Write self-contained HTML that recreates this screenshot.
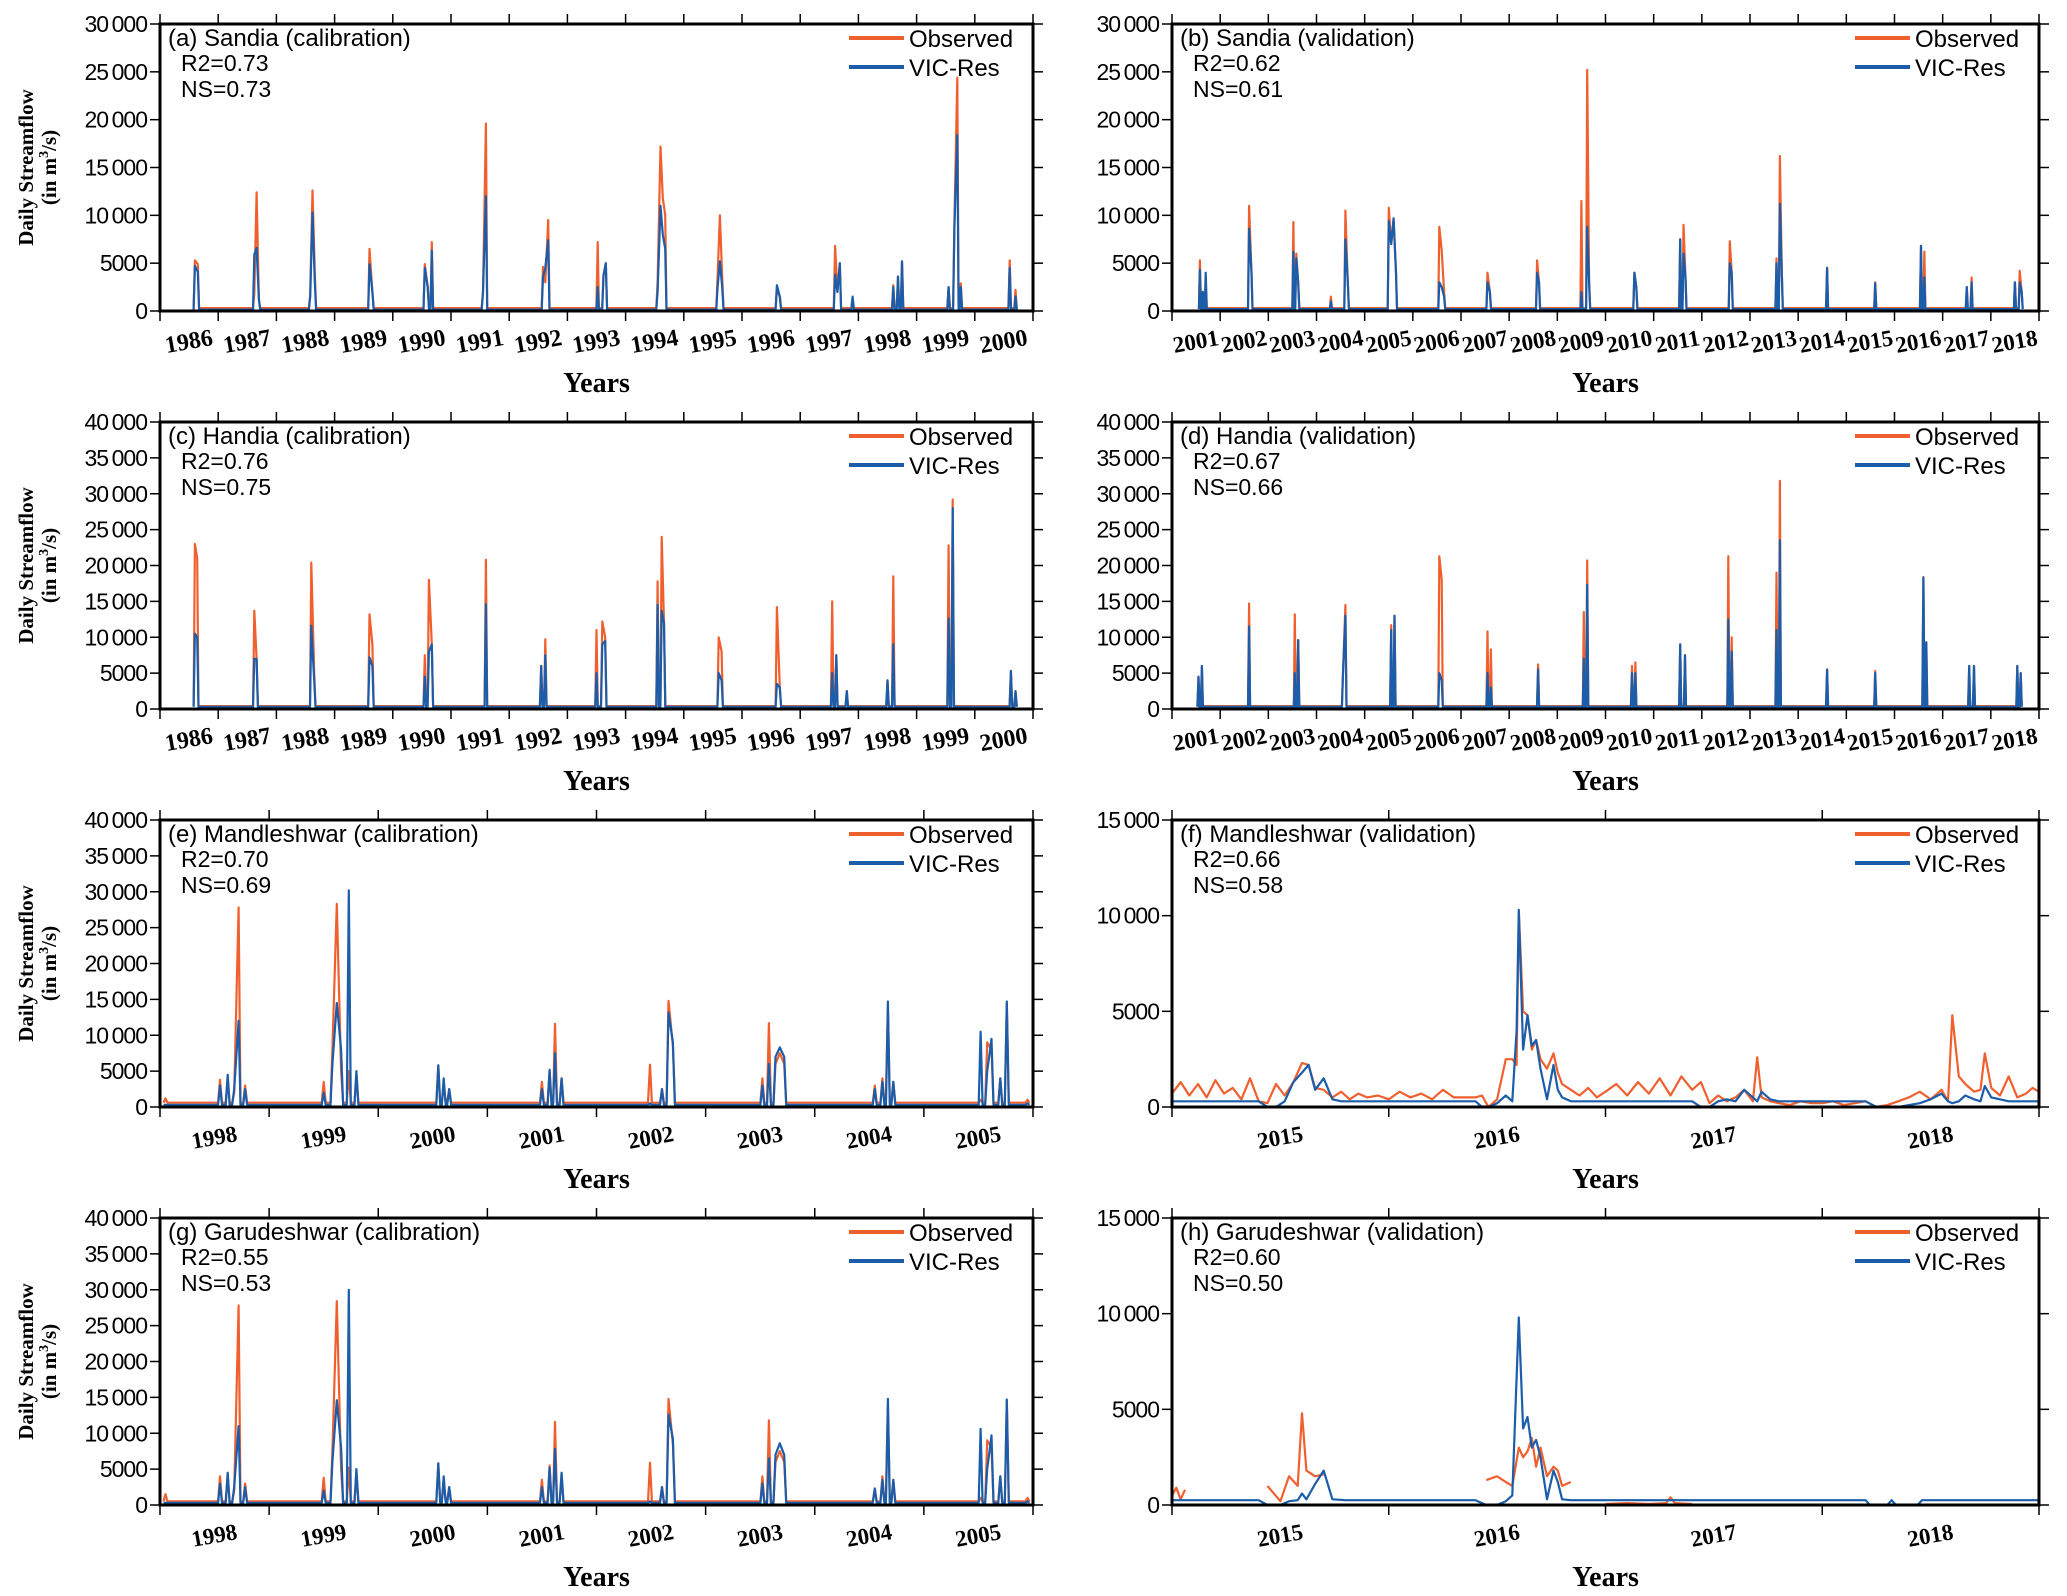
<!DOCTYPE html>
<html><head><meta charset="utf-8"><style>
html,body{margin:0;padding:0;background:#fff}
svg{display:block}
text{font-family:"Liberation Sans",sans-serif}
.ser{font-family:"Liberation Serif",serif;font-weight:bold}
</style></head><body>
<svg id="fig" width="2067" height="1596" viewBox="0 0 2067 1596" xmlns="http://www.w3.org/2000/svg"></svg>
<script>
// ---------- Panel (a) Sandia calibration ----------
const aT=[1986.6,1986.65,1987.62,1987.66,1987.7,1988.58,1988.62,1988.66,1989.6,1989.65,1990.55,1990.6,1990.67,1991.55,1991.6,1992.58,1992.62,1992.67,1993.52,1993.62,1993.66,1994.55,1994.6,1994.64,1994.68,1995.58,1995.62,1995.66,1996.6,1996.65,1997.6,1997.64,1997.68,1997.9,1998.6,1998.68,1998.75,1999.55,1999.65,1999.7,1999.76,2000.6,2000.7];
const aObs=[5300,4900,1800,12400,1200,1700,12600,4000,6500,2000,4900,2500,7200,2000,19600,4600,3000,9500,7200,3700,5000,3000,17200,11800,10000,3700,10000,3500,2200,1500,6800,2000,5000,1300,2700,3600,5200,2500,9300,24400,2900,5300,2200];
const aSim=[4700,4100,5900,6600,1200,1500,10300,3000,4900,2000,4500,2500,6300,2000,12000,3500,4500,7400,2500,3700,5000,2000,11000,8000,6500,2500,5200,2500,2700,1500,3800,2000,5000,1500,2500,3600,5200,2500,8700,18400,2500,4500,1500];
const aBase=[300,150];
// ---------- Panel (b) Sandia validation ----------
const bT=[2001.58,2001.64,2001.7,2002.6,2002.65,2003.52,2003.58,2003.62,2004.3,2004.6,2004.65,2005.5,2005.55,2005.6,2005.65,2006.55,2006.6,2006.65,2007.55,2007.6,2008.58,2008.62,2009.5,2009.62,2009.66,2010.6,2010.64,2011.55,2011.62,2011.66,2012.58,2012.62,2013.55,2013.62,2013.66,2014.6,2015.6,2016.55,2016.62,2017.5,2017.6,2018.5,2018.6,2018.64];
const bObs=[5300,2000,3000,11000,4000,9300,6000,3000,1500,10500,3000,10800,7000,9500,4000,8800,6300,2000,4000,2000,5300,3000,11500,25200,3000,4000,2500,7500,9000,3500,7300,4000,5500,16200,4000,4500,3000,6800,6200,2500,3500,3000,4200,2000];
const bSim=[4300,2000,4000,8600,4000,6200,5500,3000,1000,7500,3000,9400,7000,9700,4000,3000,2500,1500,3000,2000,4000,3000,2000,8800,3000,4000,2500,7500,6000,3500,5000,4000,5000,11200,4000,4500,2900,6800,3500,2500,3000,3000,3000,2000];
const bBase=[300,200];
// ---------- Panel (c) Handia calibration ----------
const cT=[1986.6,1986.64,1987.62,1987.66,1988.6,1988.65,1989.6,1989.65,1990.55,1990.62,1990.67,1991.6,1992.55,1992.62,1993.5,1993.6,1993.65,1994.55,1994.62,1994.66,1995.6,1995.65,1996.6,1996.65,1997.55,1997.62,1997.8,1998.5,1998.6,1999.55,1999.62,2000.62,2000.7];
const cObs=[23000,21000,13700,7000,20400,5000,13200,9000,7500,18000,9000,20800,6000,9700,11000,12200,10000,17800,24000,12000,10000,8000,14200,3000,15000,7500,2500,4000,18500,22800,29200,5300,2500];
const cSim=[10500,10000,7000,7000,11600,4000,7200,6000,4500,8000,9000,14600,6000,7500,5000,9000,9500,14500,13700,12000,5000,4000,3500,3000,5000,7500,2500,4000,9000,12600,28000,5300,2500];
const cBase=[400,300];
// ---------- Panel (d) Handia validation ----------
const dT=[2001.55,2001.62,2002.6,2003.55,2003.62,2004.55,2004.6,2005.55,2005.62,2006.55,2006.6,2007.55,2007.62,2008.6,2009.55,2009.62,2010.55,2010.62,2011.55,2011.65,2012.55,2012.62,2013.55,2013.62,2014.6,2015.6,2016.6,2016.66,2017.55,2017.65,2018.55,2018.62];
const dObs=[4500,6000,14700,13200,9600,5000,14500,11700,13000,21300,18000,10800,8300,6200,13500,20700,6000,6500,9000,7500,21300,10000,19000,31800,5500,5300,18400,9300,6000,6000,6000,5000];
const dSim=[4500,6000,11500,5000,9600,5000,13000,11000,13000,5000,4000,5000,3000,5500,7000,17300,5000,5000,9000,7500,12500,8000,11000,23500,5500,5000,18300,9300,6000,6000,6000,5000];
const dBase=[400,300];
// ---------- Panel (e) Mandleshwar calibration ----------
const eT=[1998.05,1998.55,1998.62,1998.68,1998.72,1998.78,1999.5,1999.58,1999.62,1999.66,1999.73,1999.8,2000.55,2000.6,2000.65,2001.5,2001.57,2001.62,2001.68,2002.49,2002.6,2002.66,2002.7,2003.52,2003.58,2003.64,2003.68,2003.72,2004.55,2004.62,2004.67,2004.72,2005.52,2005.58,2005.62,2005.7,2005.76,2005.95];
const eObs=[1200,3800,4000,2000,27800,3000,3500,8000,28300,5000,5000,4500,5800,3000,2500,3500,5000,11600,4000,5900,2500,14800,8500,4000,11700,6000,7500,6000,3000,4000,13800,3500,1000,9000,8000,4000,14500,1000];
const eSim=[300,3000,4500,2500,12000,2500,2000,6000,14500,8000,30200,5000,5800,4000,2500,2500,5200,7500,4000,500,2500,13200,9000,3000,6000,7000,8300,7000,2500,3500,14700,3500,10500,5000,9500,4000,14700,500];
const eBase=[600,300];
// ---------- Panel (g) Garudeshwar calibration ----------
const gT=eT;
const gObs=[1500,4000,4000,2000,27800,3000,3800,7500,28400,5000,5200,4500,5800,3000,2500,3500,5500,11600,4000,5900,2500,14800,8500,4000,11800,6000,7500,6000,2300,4000,13800,3500,1000,9000,8000,4000,14500,1000];
const gSim=[300,3000,4500,2500,11000,2500,2000,6000,14600,8000,30000,5000,5800,4000,2500,2500,5200,7800,4500,500,2500,12600,9200,3000,6500,7000,8600,7000,2300,3500,14800,3500,10600,5000,9700,4000,14700,500];
const gBase=[500,300];
// ---------- Panel (f) Mandleshwar validation ----------
const fT=[2015.00,2015.04,2015.08,2015.12,2015.16,2015.20,2015.24,2015.28,2015.32,2015.36,2015.40,2015.44,2015.48,2015.52,2015.56,2015.60,2015.63,2015.66,2015.70,2015.74,2015.78,2015.82,2015.86,2015.90,2015.95,
2016.00,2016.05,2016.10,2016.15,2016.20,2016.25,2016.30,2016.35,2016.40,2016.43,2016.46,2016.50,2016.54,2016.57,2016.59,2016.60,2016.62,2016.64,2016.66,2016.68,2016.70,2016.73,2016.76,2016.78,2016.80,2016.84,2016.88,2016.92,2016.96,
2017.00,2017.05,2017.10,2017.15,2017.20,2017.25,2017.30,2017.35,2017.40,2017.44,2017.48,2017.52,2017.56,2017.60,2017.64,2017.68,2017.70,2017.72,2017.76,2017.80,2017.85,2017.90,2017.95,
2018.00,2018.05,2018.10,2018.15,2018.20,2018.25,2018.30,2018.35,2018.40,2018.45,2018.50,2018.55,2018.58,2018.60,2018.63,2018.66,2018.70,2018.73,2018.75,2018.78,2018.82,2018.86,2018.90,2018.94,2018.97,2019.00];
const fObs=[700,1300,600,1200,500,1400,700,1000,400,1500,300,200,1200,600,1300,2300,2200,1000,900,500,800,400,700,500,600,
400,800,500,700,400,900,500,500,500,600,0,400,2500,2500,2200,10200,5000,4800,3000,3500,2500,2000,2800,1800,1200,900,600,1000,500,
800,1200,600,1300,700,1500,600,1600,900,1300,200,600,300,500,900,300,2600,500,300,200,100,300,200,
200,300,100,200,300,0,100,300,500,800,400,900,300,4800,1600,1200,800,900,2800,1000,600,1600,500,700,1000,800];
const fSim=[300,300,300,300,300,300,300,300,300,300,300,0,0,300,1300,1800,2200,900,1500,400,300,300,300,300,300,
300,300,300,300,300,300,300,300,300,0,0,200,600,300,4000,10300,3000,4800,3200,3500,2000,400,2200,900,500,300,300,300,300,
300,300,300,300,300,300,300,300,300,0,0,300,400,300,900,500,300,800,400,300,300,300,300,
300,300,300,300,300,0,0,0,100,200,400,700,300,200,300,600,400,300,1100,500,400,300,300,300,300,300];
// ---------- Panel (h) Garudeshwar validation ----------
const hT=[2015.00,2015.02,2015.04,2015.06,2015.08,2015.40,2015.44,2015.50,2015.54,2015.58,2015.60,2015.62,2015.66,2015.70,2015.74,2015.80,2015.90,
2016.00,2016.20,2016.40,2016.45,2016.50,2016.54,2016.57,2016.60,2016.62,2016.64,2016.66,2016.68,2016.70,2016.73,2016.76,2016.78,2016.80,2016.84,2016.88,2016.92,
2017.00,2017.10,2017.20,2017.28,2017.30,2017.32,2017.40,2017.60,2017.90,
2018.00,2018.20,2018.22,2018.30,2018.32,2018.34,2018.44,2018.46,2018.50,2018.60,2018.80,2019.00];
const hObs=[500,900,300,800,null,null,1000,200,1500,1000,4800,1800,1500,1600,null,null,null,
null,null,null,1300,1500,1200,1000,3000,2500,2800,3500,2000,3000,1500,2000,1800,1000,1200,null,null,
50,100,50,100,400,100,50,null,null,
null,null,null,null,null,null,null,null,null,null,null,null];
const hSim=[250,250,250,250,250,250,0,0,200,250,600,300,1100,1800,300,250,250,
250,250,250,0,0,200,500,9800,4000,4600,3000,3400,2500,300,1800,1200,300,250,250,250,
250,250,250,250,250,250,250,250,250,
250,250,0,0,250,0,0,250,250,250,250,250];

const NS='http://www.w3.org/2000/svg';
const svg=document.getElementById('fig');
const OBS='#f0602f', SIM='#1c5daa';
function mk(tag,attrs,parent){const e=document.createElementNS(NS,tag);for(const k in attrs)e.setAttribute(k,attrs[k]);(parent||svg).appendChild(e);return e;}
function fmt(v){const s=String(v);return v>=10000? s.slice(0,s.length-3)+'\u2009'+s.slice(-3):s;}

function spikePts(T,V,base,w){
  const pts=[];
  for(let i=0;i<T.length;i++){
    const prevClose=i>0 && T[i]-T[i-1]<2.5*w;
    const nextClose=i<T.length-1 && T[i+1]-T[i]<2.5*w;
    if(!prevClose) pts.push([T[i]-w,base]);
    pts.push([T[i],V[i]]);
    if(!nextClose) pts.push([T[i]+w,base]);
  }
  return pts;
}

function panel(c){
  const g=mk('g',{});
  
  
  const x0=c.x,y0=c.y,W=c.w,H=c.h;
  const X=t=>x0+(t-c.xmin)/(c.xmax-c.xmin)*W;
  const Y=v=>y0+H-v/c.ymax*H;
  const cp=mk('clipPath',{id:'clip'+c.id},g);
  mk('rect',{x:x0,y:y0,width:W,height:H},cp);
  const dg=mk('g',{'clip-path':'url(#clip'+c.id+')'},g);
  
  
  const series=[['observed',c.obs,OBS],['vic-res',c.sim,SIM]];
  series.forEach(([nm,pts,col])=>{
    let d='',pen=false;
    pts.forEach(p=>{
      if(p[1]===null||p[1]===undefined){pen=false;return;}
      d+=(pen?'L':'M')+X(p[0]).toFixed(1)+' '+Y(p[1]).toFixed(1);pen=true;
    });
    const pa=mk('path',{d:d,fill:'none',stroke:col,'stroke-width':2.2,'stroke-linejoin':'round'},dg);
    
    
  });
  const fr=mk('rect',{x:x0,y:y0,width:W,height:H,fill:'none',stroke:'#000','stroke-width':3},g);
  
  
  for(let yr=Math.ceil(c.xmin);yr<=c.xmax;yr++){
    const xx=X(yr);
    mk('line',{x1:xx,y1:y0,x2:xx,y2:y0-10,stroke:'#000','stroke-width':1.5},g);
    mk('line',{x1:xx,y1:y0+H,x2:xx,y2:y0+H+10,stroke:'#000','stroke-width':1.5},g);
    if(yr<c.xmax){
      const tx=mk('text',{x:X(yr+0.5),y:y0+H+38,'text-anchor':'middle','font-size':c.xfs,'class':'ser',transform:'rotate(-10 '+X(yr+0.5)+' '+(y0+H+32)+')'},g);
      tx.textContent=yr;
      
      
    }
  }
  for(let v=0;v<=c.ymax;v+=5000){
    const yy=Y(v);
    mk('line',{x1:x0,y1:yy,x2:x0-10,y2:yy,stroke:'#000','stroke-width':1.5},g);
    mk('line',{x1:x0+W,y1:yy,x2:x0+W+10,y2:yy,stroke:'#000','stroke-width':1.5},g);
    const tx=mk('text',{x:x0-13,y:yy+8,'text-anchor':'end','font-size':23,'letter-spacing':'-1'},g);
    tx.textContent=fmt(v);
    
    
  }
  const xt=mk('text',{x:x0+W/2,y:y0+H+81,'text-anchor':'middle','font-size':28,'class':'ser'},g);
  xt.textContent='Years';
  
  
  if(c.ytitle){
    const cy=y0+H/2;
    const t1=mk('text',{x:0,y:0,'text-anchor':'middle','font-size':21,'class':'ser',transform:'translate(33 '+cy+') rotate(-90)'},g);
    t1.textContent='Daily Streamflow';
    
    
    const t2=mk('text',{x:0,y:0,'text-anchor':'middle','font-size':21,'class':'ser',transform:'translate(56 '+cy+') rotate(-90)'},g);
    t2.innerHTML='(in m<tspan dy="-8" font-size="14">3</tspan><tspan dy="8">/s)</tspan>';
    
    
  }
  const lab=mk('text',{x:x0+8,y:y0+22,'font-size':24},g);
  lab.textContent=c.title;
  
  
  const r2=mk('text',{x:x0+21,y:y0+47,'font-size':23},g);
  r2.textContent='R2='+c.r2;
  
  
  const ns=mk('text',{x:x0+21,y:y0+73,'font-size':23},g);
  ns.textContent='NS='+c.ns;
  
  
  const lg=mk('g',{},g);
  
  
  [['Observed',OBS,14],['VIC-Res',SIM,43]].forEach(([nm,col,dy])=>{
    mk('line',{x1:x0+W-184,y1:y0+dy,x2:x0+W-129,y2:y0+dy,stroke:col,'stroke-width':4},lg);
    const t=mk('text',{x:x0+W-124,y:y0+dy+9,'font-size':24},lg);
    t.textContent=nm;
    
    
  });
}

const L=160,R=1172,WL=873,WR=867,HH=287,tops=[24,422,820,1218];
const zip=(T,V)=>T.map((t,i)=>[t,V[i]]);
const W=0.022;
panel({id:'a',x:L,y:tops[0],w:WL,h:HH,xmin:1986,xmax:2001,ymax:30000,xfs:24,ytitle:true,title:'(a) Sandia (calibration)',r2:'0.73',ns:'0.73',
  obs:spikePts(aT,aObs,aBase[0],W),sim:spikePts(aT,aSim,aBase[1],W)});
panel({id:'b',x:R,y:tops[0],w:WR,h:HH,xmin:2001,xmax:2019,ymax:30000,xfs:23,ytitle:false,title:'(b) Sandia (validation)',r2:'0.62',ns:'0.61',
  obs:spikePts(bT,bObs,bBase[0],W),sim:spikePts(bT,bSim,bBase[1],W)});
panel({id:'c',x:L,y:tops[1],w:WL,h:HH,xmin:1986,xmax:2001,ymax:40000,xfs:24,ytitle:true,title:'(c) Handia (calibration)',r2:'0.76',ns:'0.75',
  obs:spikePts(cT,cObs,cBase[0],W),sim:spikePts(cT,cSim,cBase[1],W)});
panel({id:'d',x:R,y:tops[1],w:WR,h:HH,xmin:2001,xmax:2019,ymax:40000,xfs:23,ytitle:false,title:'(d) Handia (validation)',r2:'0.67',ns:'0.66',
  obs:spikePts(dT,dObs,dBase[0],W),sim:spikePts(dT,dSim,dBase[1],W)});
panel({id:'e',x:L,y:tops[2],w:WL,h:HH,xmin:1998,xmax:2006,ymax:40000,xfs:23,ytitle:true,title:'(e) Mandleshwar (calibration)',r2:'0.70',ns:'0.69',
  obs:spikePts(eT,eObs,eBase[0],0.018),sim:spikePts(eT,eSim,eBase[1],0.018)});
panel({id:'f',x:R,y:tops[2],w:WR,h:HH,xmin:2015,xmax:2019,ymax:15000,xfs:23,ytitle:false,title:'(f) Mandleshwar (validation)',r2:'0.66',ns:'0.58',
  obs:zip(fT,fObs),sim:zip(fT,fSim)});
panel({id:'g',x:L,y:tops[3],w:WL,h:HH,xmin:1998,xmax:2006,ymax:40000,xfs:23,ytitle:true,title:'(g) Garudeshwar (calibration)',r2:'0.55',ns:'0.53',
  obs:spikePts(gT,gObs,gBase[0],0.018),sim:spikePts(gT,gSim,gBase[1],0.018)});
panel({id:'h',x:R,y:tops[3],w:WR,h:HH,xmin:2015,xmax:2019,ymax:15000,xfs:23,ytitle:false,title:'(h) Garudeshwar (validation)',r2:'0.60',ns:'0.50',
  obs:zip(hT,hObs),sim:zip(hT,hSim)});
</script>
</body></html>
